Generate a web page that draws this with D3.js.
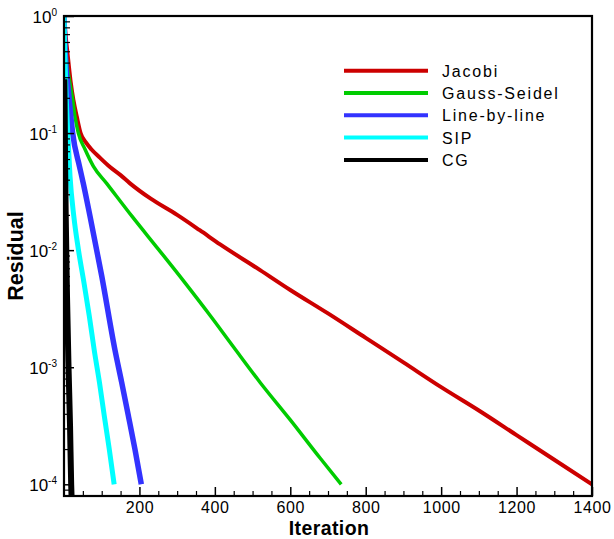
<!DOCTYPE html>
<html>
<head>
<meta charset="utf-8">
<script src="https://cdn.jsdelivr.net/npm/d3@7"></script>
<style>
  html, body { margin: 0; padding: 0; background: #ffffff; }
  svg { display: block; }
  text { font-family: "Liberation Sans", Arial, Helvetica, sans-serif; fill: #000; }
</style>
</head>
<body>
<svg id="chart" width="614" height="539"></svg>
<script>
// ---------------- data ----------------
const jacobiIter = [0, 3, 7, 11, 18, 25, 34, 44, 58, 73, 95, 122, 150, 175, 230, 300, 360, 414, 520, 600, 700, 800, 900, 1000, 1100, 1200, 1300, 1400];
const jacobiRes  = [1.0, 0.759, 0.562, 0.427, 0.269, 0.191, 0.138, 0.100, 0.0832, 0.0724, 0.0617, 0.0513, 0.0437, 0.0372, 0.0275, 0.0200, 0.0148, 0.0112, 0.00676, 0.00457, 0.00288, 0.00178, 0.00110, 0.000676, 0.000427, 0.000263, 0.000162, 0.000100];

const gaussIter = [0, 3, 6, 11, 17, 23, 29, 38, 56, 78, 113, 180, 250, 321, 388, 450, 520, 600, 680, 735];
const gaussRes  = [1.0, 0.631, 0.447, 0.331, 0.251, 0.193, 0.139, 0.100, 0.0724, 0.0520, 0.0372, 0.0195, 0.0102, 0.00525, 0.00275, 0.00148, 0.000741, 0.000355, 0.000166, 0.000100];

const lineIter = [0, 2, 5, 11, 17, 23, 41, 51, 69, 100, 135, 153, 171, 188, 205];
const lineRes  = [1.0, 0.603, 0.380, 0.240, 0.151, 0.100, 0.0520, 0.0374, 0.0195, 0.00603, 0.00141, 0.000741, 0.000380, 0.000200, 0.000100];

const sipIter = [0, 2, 5, 10, 16, 26, 38, 53, 67, 80, 94, 107, 120, 133];
const sipRes  = [1.0, 0.501, 0.240, 0.100, 0.0427, 0.0195, 0.0102, 0.00525, 0.00275, 0.00141, 0.000741, 0.000380, 0.000200, 0.000100];

const cgIter = [1, 2, 3, 5, 8, 12, 16, 19, 20];
const cgRes  = [0.288, 0.126, 0.0501, 0.0158, 0.00398, 0.00100, 0.000316, 0.000100, 0.0000794];

const seriesNames  = ["Jacobi", "Gauss-Seidel", "Line-by-line", "SIP", "CG"];
const seriesColors = ["#cc0000", "#00cc00", "#3333ff", "#00ffff", "#000000"];
const seriesWidths = [4, 3.5, 5.5, 5, 6];

const xTickValues = [200, 400, 600, 800, 1000, 1200, 1400];
const yTickValues = [1, 0.1, 0.01, 0.001, 0.0001];
const yTickExponents = ["0", "-1", "-2", "-3", "-4"];

// ---------------- layout ----------------
const svg = d3.select("#chart");
const L = 64, R = 592, T = 16, B = 496;

const x = d3.scaleLinear().domain([0, 1400]).range([L, R]);
const y = d3.scaleLog().domain([Math.pow(10, -4.1), 1]).range([B, T]);

svg.append("defs").append("clipPath").attr("id", "plotclip")
  .append("rect").attr("x", L).attr("y", T).attr("width", R - L).attr("height", B - T);

// ---------------- series ----------------
const series = [
  { iter: jacobiIter, res: jacobiRes },
  { iter: gaussIter, res: gaussRes },
  { iter: lineIter, res: lineRes },
  { iter: sipIter, res: sipRes },
  { iter: cgIter, res: cgRes }
];

const line = d3.line().x(d => x(d[0])).y(d => y(d[1])).curve(d3.curveMonotoneX);
const gLines = svg.append("g").attr("clip-path", "url(#plotclip)");
series.forEach((s, i) => {
  const pts = s.iter.map((v, j) => [v, s.res[j]]);
  gLines.append("path")
    .datum(pts)
    .attr("d", line)
    .attr("fill", "none")
    .attr("stroke", seriesColors[i])
    .attr("stroke-width", seriesWidths[i])
    .attr("stroke-linejoin", "round")
    .attr("stroke-linecap", "butt");
});

// ---------------- axes ----------------
// x minor ticks
const xMinor = d3.range(50, 1400, 50).filter(v => v % 200 !== 0);
svg.append("g").attr("transform", `translate(0,${B})`)
  .call(d3.axisBottom(x).tickValues(xMinor).tickSizeInner(-5).tickSizeOuter(0).tickFormat(""))
  .call(g => g.select(".domain").remove())
  .call(g => g.selectAll("line").attr("stroke", "#000").attr("stroke-width", 1.2));

// x major ticks + labels
svg.append("g").attr("transform", `translate(0,${B})`)
  .call(d3.axisBottom(x).tickValues(xTickValues).tickSizeInner(-9).tickSizeOuter(0).tickPadding(6).tickFormat(d3.format("d")))
  .call(g => g.select(".domain").remove())
  .call(g => g.selectAll("line").attr("stroke", "#000").attr("stroke-width", 1.5))
  .call(g => g.selectAll("text")
    .attr("font-size", "16px")
    .attr("font-family", '"Liberation Sans", Arial, sans-serif')
    .attr("letter-spacing", "0.6px")
    .attr("fill", "#000"));

// y minor ticks
const yMinor = [];
for (let k = -5; k <= 0; k++) {
  for (let m = 2; m <= 9; m++) {
    const v = m * Math.pow(10, k);
    if (v >= y.domain()[0] && v <= 1) yMinor.push(v);
  }
}
svg.append("g").attr("transform", `translate(${L},0)`)
  .call(d3.axisLeft(y).tickValues(yMinor).tickSizeInner(-6).tickSizeOuter(0).tickFormat(""))
  .call(g => g.select(".domain").remove())
  .call(g => g.selectAll("line").attr("stroke", "#000").attr("stroke-width", 1.2));

// y major ticks
svg.append("g").attr("transform", `translate(${L},0)`)
  .call(d3.axisLeft(y).tickValues(yTickValues).tickSizeInner(-10).tickSizeOuter(0).tickFormat(""))
  .call(g => g.select(".domain").remove())
  .call(g => g.selectAll("line").attr("stroke", "#000").attr("stroke-width", 1.5));

// y labels 10^k
yTickValues.forEach((v, i) => {
  const t = svg.append("text")
    .attr("x", 57)
    .attr("y", y(v) + 6.5)
    .attr("text-anchor", "end")
    .attr("font-size", "17px");
  t.append("tspan").text("10");
  t.append("tspan").attr("dy", -7).attr("font-size", "10px").text(yTickExponents[i]);
});

// frame
svg.append("rect")
  .attr("x", L).attr("y", T).attr("width", R - L).attr("height", B - T)
  .attr("fill", "none").attr("stroke", "#000").attr("stroke-width", 2.2);

// axis titles
svg.append("text")
  .attr("x", 329).attr("y", 534.8)
  .attr("text-anchor", "middle")
  .attr("font-size", "19.5px").attr("font-weight", "bold")
  .attr("letter-spacing", "0.4px")
  .text("Iteration");

svg.append("text")
  .attr("transform", "translate(23,256) rotate(-90)")
  .attr("text-anchor", "middle")
  .attr("font-size", "21.5px").attr("font-weight", "bold")
  .text("Residual");

// ---------------- legend ----------------
const legend = svg.append("g");
seriesNames.forEach((name, i) => {
  const ly = 70.7 + i * 22.3;
  legend.append("line")
    .attr("x1", 344).attr("x2", 428).attr("y1", ly).attr("y2", ly)
    .attr("stroke", seriesColors[i]).attr("stroke-width", 4);
  legend.append("text")
    .attr("x", 442).attr("y", ly + 6)
    .attr("font-size", "16px")
    .attr("letter-spacing", "1.8px")
    .text(name);
});
</script>
</body>
</html>
